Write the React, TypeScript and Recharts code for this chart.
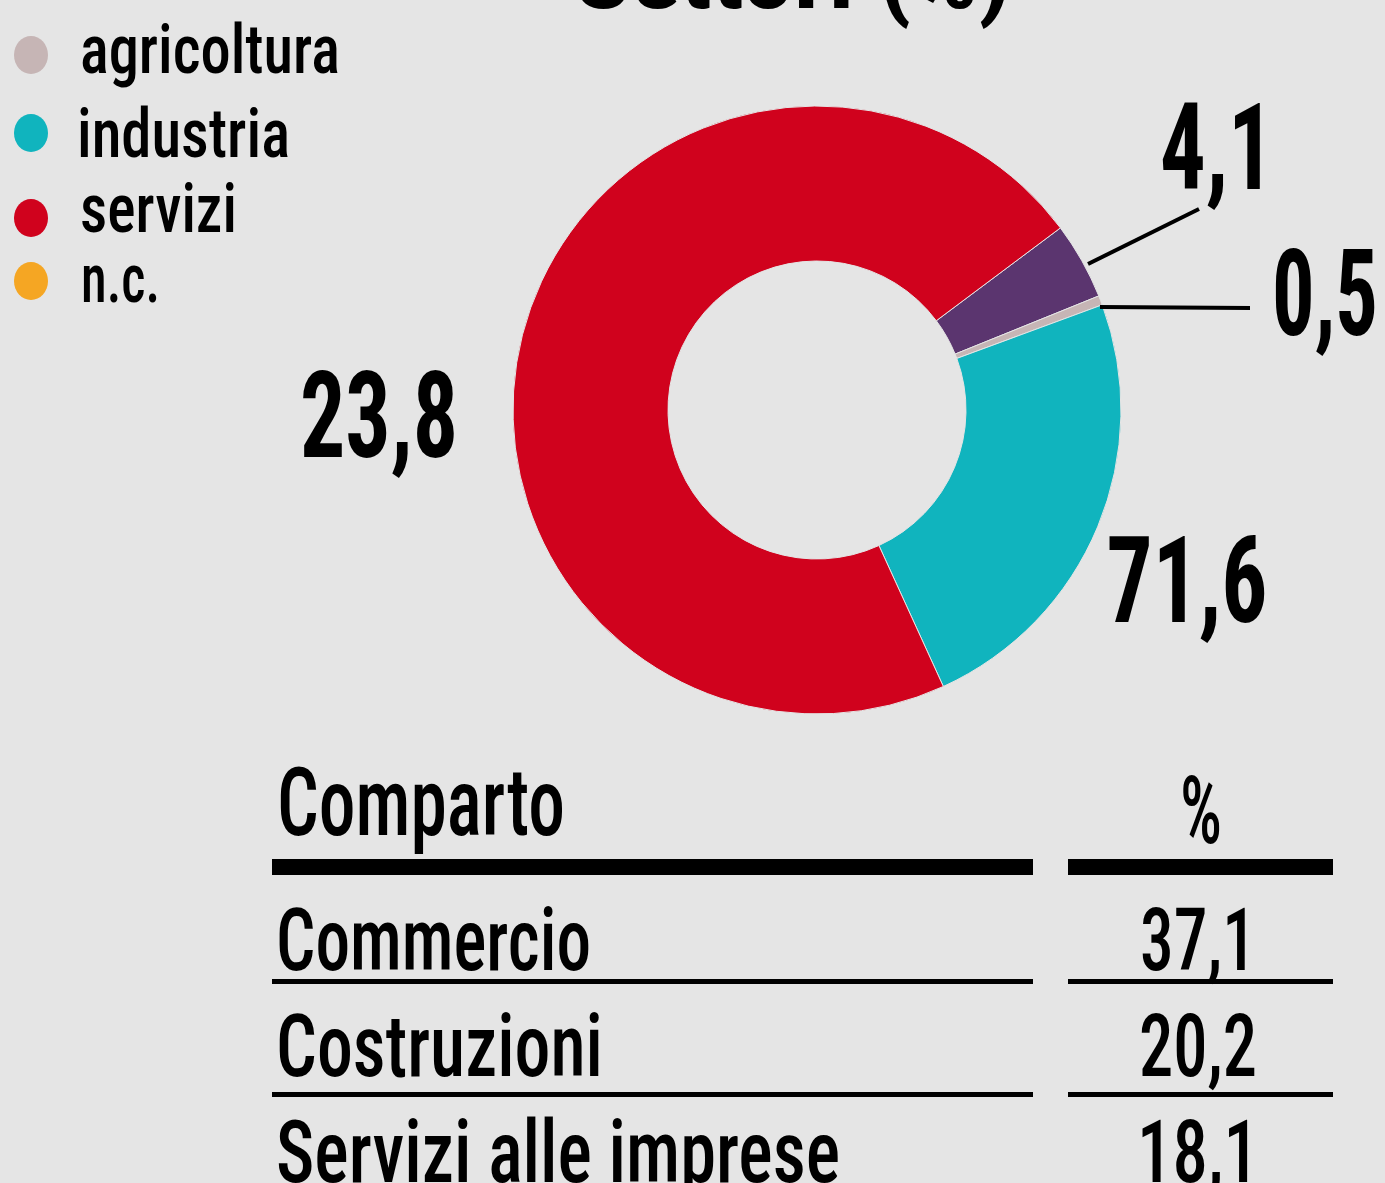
import React from "react";
import { PieChart, Pie, Cell } from "recharts";

// ---- data ----
const sliceNames = ["n.c.", "agricoltura", "industria", "servizi"];
const sliceValues = [4.1, 0.5, 23.8, 71.6];
const sliceColors = ["#5b356f", "#c6b5b5", "#10b4be", "#d0021d"];
const sliceLabels = ["4,1", "0,5", "71,6", "23,8"];

const legendNames = ["agricoltura", "industria", "servizi", "n.c."];
const legendColors = ["#c6b5b5", "#10b4be", "#d0021d", "#f5a623"];

const tableHeader = ["Comparto", "%"];
const tableRows = ["Commercio", "Costruzioni", "Servizi alle imprese"];
const tableValues = ["37,1", "20,2", "18,1"];

const title = "Settori (%)";

const pieData = sliceNames.map((n, i) => ({ name: n, value: sliceValues[i] }));

// ---- styling / layout ----
const BG = "#e5e5e5";
const FONT = "'Roboto Condensed', 'Liberation Sans Narrow', 'DejaVu Sans Condensed', Roboto, sans-serif";

const labelLayout = [
  { dx: 400, dy: -221, w: 114, line: [271, -146, 382, -201] },
  { dx: 508, dy: -75, w: 106, line: [283, -103, 433, -102] },
  { dx: 370, dy: 212, w: 161, line: null },
  { dx: -438, dy: 47, w: 158, line: null },
];

const legendLayout = [
  { cy: 55, tx: 80, ty: 73, w: 260 },
  { cy: 133, tx: 77, ty: 157, w: 213 },
  { cy: 218, tx: 80, ty: 232, w: 157 },
  { cy: 281, tx: 81, ty: 302, w: 79 },
];

const rowLayout = [
  { y: 970, w: 315, vw: 116, line: 981 },
  { y: 1076, w: 327, vw: 118, line: 1094 },
  { y: 1182, w: 564, vw: 122, line: null },
];

const renderLabel = (props: any) => {
  const { cx, cy, index } = props;
  const L = labelLayout[index];
  return (
    <g key={`lbl-${index}`}>
      {L.line && (
        <line
          x1={cx + L.line[0]}
          y1={cy + L.line[1]}
          x2={cx + L.line[2]}
          y2={cy + L.line[3]}
          stroke="#000"
          strokeWidth={4}
        />
      )}
      <text
        x={cx + L.dx}
        y={cy + L.dy}
        textAnchor="middle"
        fontFamily={FONT}
        fontWeight={700}
        fontSize={120}
        fill="#000"
        textLength={L.w}
        lengthAdjust="spacingAndGlyphs"
      >
        {sliceLabels[index]}
      </text>
    </g>
  );
};

export default function App() {
  return (
    <div
      style={{
        position: "absolute",
        left: 0,
        top: 0,
        width: 1385,
        height: 1183,
        overflow: "hidden",
        background: BG,
      }}
    >
      <div style={{ position: "absolute", left: 0, top: 0 }}>
        <PieChart width={1385} height={740} margin={{ top: 0, right: 0, bottom: 0, left: 0 }}>
          <Pie
            data={pieData}
            dataKey="value"
            nameKey="name"
            cx={817}
            cy={410}
            innerRadius={149}
            outerRadius={304}
            startAngle={36.8}
            endAngle={-323.2}
            stroke={BG}
            strokeWidth={1}
            label={renderLabel}
            labelLine={false}
            isAnimationActive={false}
          >
            {pieData.map((d, i) => (
              <Cell key={d.name} fill={sliceColors[i]} />
            ))}
          </Pie>
        </PieChart>
      </div>
      <svg
        width={1385}
        height={1183}
        style={{ position: "absolute", left: 0, top: 0, pointerEvents: "none" }}
      >
        <text
          x={793}
          y={8}
          textAnchor="middle"
          fontFamily={FONT}
          fontWeight={700}
          fontSize={95}
          textLength={437}
          lengthAdjust="spacingAndGlyphs"
        >
          {title}
        </text>
        {legendNames.map((n, i) => (
          <g key={n}>
            <ellipse cx={31} cy={legendLayout[i].cy} rx={17} ry={19} fill={legendColors[i]} />
            <text
              x={legendLayout[i].tx}
              y={legendLayout[i].ty}
              fontFamily={FONT}
              fontWeight={500}
              fontSize={68}
              textLength={legendLayout[i].w}
              lengthAdjust="spacingAndGlyphs"
            >
              {n}
            </text>
          </g>
        ))}
        {/* table */}
        <text
          x={277}
          y={835}
          fontFamily={FONT}
          fontWeight={500}
          fontSize={94}
          textLength={288}
          lengthAdjust="spacingAndGlyphs"
        >
          {tableHeader[0]}
        </text>
        <text
          x={1201}
          y={843}
          textAnchor="middle"
          fontFamily={FONT}
          fontWeight={500}
          fontSize={94}
          textLength={42}
          lengthAdjust="spacingAndGlyphs"
        >
          {tableHeader[1]}
        </text>
        <rect x={272} y={859} width={761} height={16} fill="#000" />
        <rect x={1068} y={859} width={265} height={16} fill="#000" />
        {tableRows.map((r, i) => (
          <g key={r}>
            <text
              x={276}
              y={rowLayout[i].y}
              fontFamily={FONT}
              fontWeight={500}
              fontSize={88}
              textLength={rowLayout[i].w}
              lengthAdjust="spacingAndGlyphs"
            >
              {r}
            </text>
            <text
              x={1198}
              y={rowLayout[i].y}
              textAnchor="middle"
              fontFamily={FONT}
              fontWeight={500}
              fontSize={88}
              textLength={rowLayout[i].vw}
              lengthAdjust="spacingAndGlyphs"
            >
              {tableValues[i]}
            </text>
            {rowLayout[i].line !== null && (
              <>
                <rect x={272} y={(rowLayout[i].line as number) - 2} width={761} height={5} fill="#000" />
                <rect x={1068} y={(rowLayout[i].line as number) - 2} width={265} height={5} fill="#000" />
              </>
            )}
          </g>
        ))}
      </svg>
    </div>
  );
}
